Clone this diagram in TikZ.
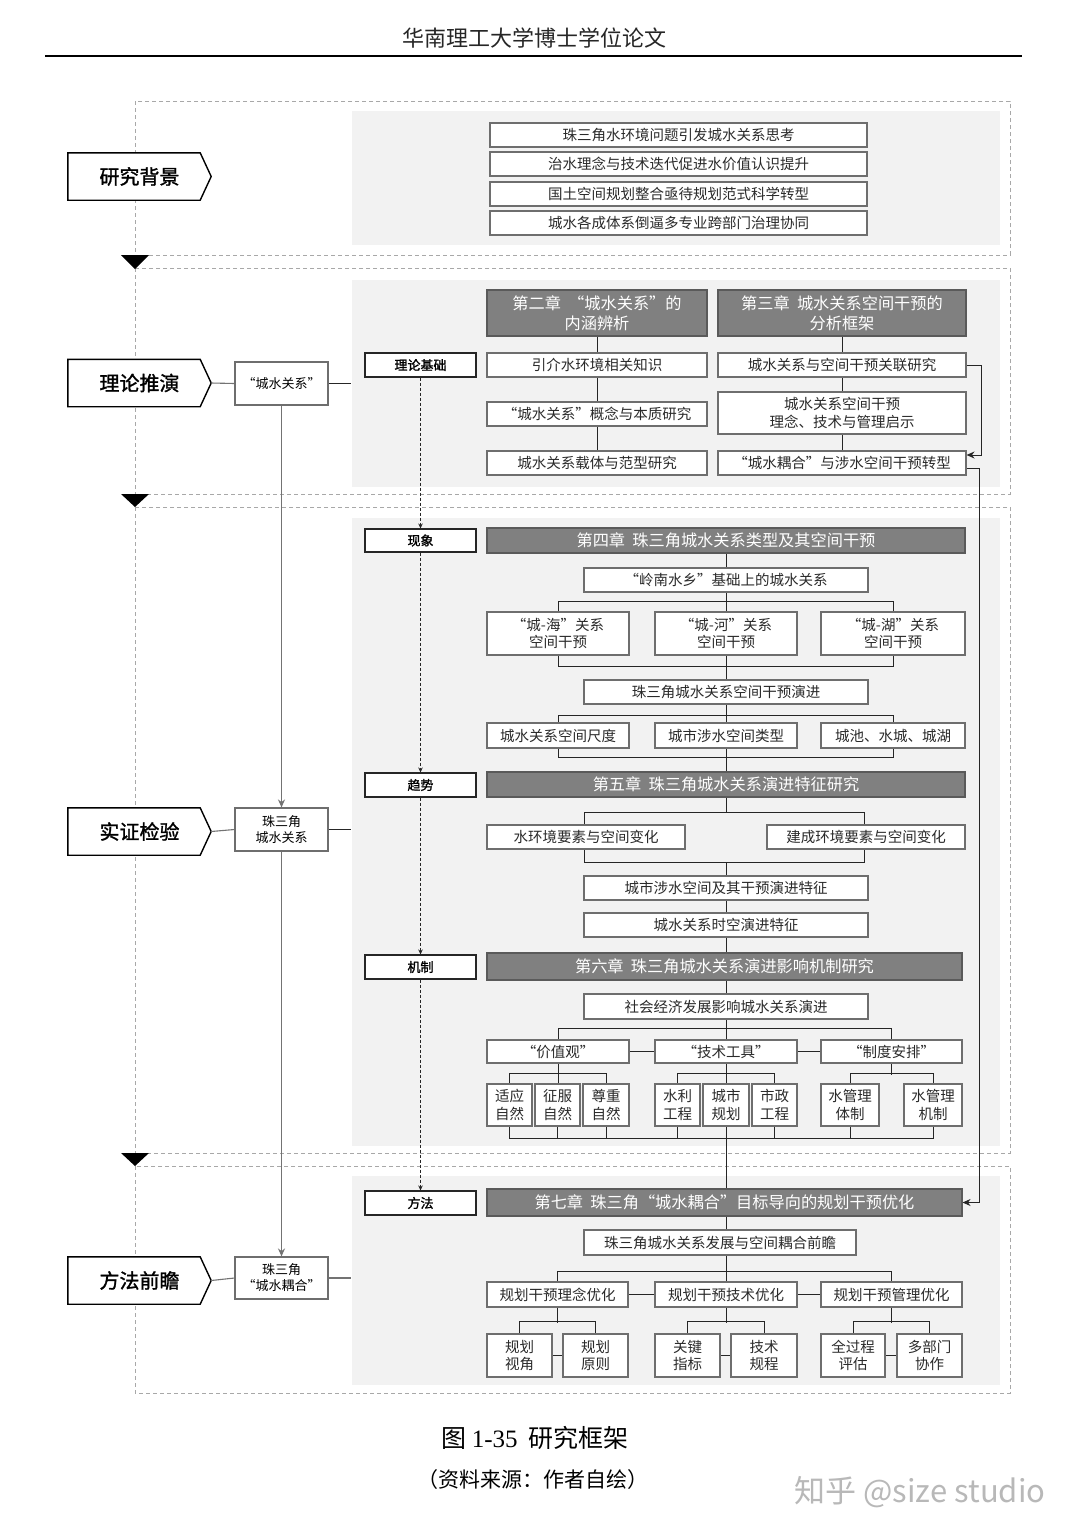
\documentclass[tikz,border=0pt]{standalone}
\usepackage{fontspec}
\setmainfont{Noto Sans CJK SC}
\newfontfamily\cjkb[FakeBold=1.4]{Noto Sans CJK SC}
\newfontfamily\lserif{Liberation Serif}
\usetikzlibrary{calc,arrows.meta}
\pgfdeclarelayer{back}
\pgfdeclarelayer{lines}
\pgfsetlayers{back,lines,main}
\definecolor{panel}{HTML}{F2F2F2}
\definecolor{dark}{HTML}{808080}
\definecolor{darkb}{HTML}{5A5A5A}
\definecolor{bord}{HTML}{6E6E6E}
\definecolor{txt}{HTML}{2A2A2A}
\definecolor{dashc}{HTML}{A8A8A8}
\tikzset{
  bxs/.style={draw=bord, line width=1.1pt, fill=white, inner sep=0pt, align=center, text=txt, font=\fontsize{14.5}{17.5}\selectfont},
  chap/.style={fill=dark, draw=darkb, text=white, font=\fontsize{16.2}{19.5}\selectfont},
  lab/.style={draw=black!85, text=black, font=\cjkb\fontsize{13}{15}\selectfont},
  sml/.style={draw=bord, text=black, font=\fontsize{13}{16}\selectfont},
  pnl/.style={fill=panel, draw=none},
  pent/.style={inner sep=0pt, minimum width=143pt, minimum height=47pt, font=\cjkb\fontsize{20}{24}\selectfont},
  pentline/.style={draw=black, line width=1.4pt, fill=white},
  conn/.style={draw=black!85, line width=1pt},
  gconn/.style={draw=black!55, line width=1.1pt},
  arr/.style={-{Stealth[length=8pt,width=7pt]}},
  sarr/.style={-{Stealth[length=5pt,width=4.5pt]}},
  dsh/.style={draw=dashc, line width=1pt, dash pattern=on 4pt off 3pt},
  dconn/.style={draw=black!85, line width=0.9pt, dash pattern=on 3pt off 2pt},
}
\newcommand\bx[7][]{\node[bxs,#1,minimum width={(#5-#3)*1pt},minimum height={(#6-#4)*1pt}] (#2) at ({(#3+#5)/2},{(#4+#6)/2}) {#7};}

\begin{document}
\begin{tikzpicture}[x=1pt,y=-1pt]
\useasboundingbox (0,0) rectangle (1080,1537);
\begin{pgfonlayer}{back}
\fill[white] (0,0) rectangle (1080,1537);
\bx[pnl]{P1}{352}{111}{1000}{245}{}
\bx[pnl]{P2}{352}{280}{1000}{487}{}
\bx[pnl]{P3}{352}{518}{1000}{1146}{}
\bx[pnl]{P4}{352}{1176}{1000}{1385}{}
\draw[dsh] (135,101) rectangle (1010,255);
\draw[dsh] (135,268) rectangle (1010,494);
\draw[dsh] (135,507) rectangle (1010,1153);
\draw[dsh] (135,1166) rectangle (1010,1393);
\end{pgfonlayer}

% header
\node[font=\fontsize{22}{25}\selectfont, text=black!85] (hdr) at (534,38) {华南理工大学博士学位论文};
\draw[line width=2.5pt] (45,56) -- (1022,56);

% triangles
\fill (121,255) -- (149,255) -- (135,269) -- cycle;
\fill (121,494) -- (149,494) -- (135,507) -- cycle;
\fill (121,1153) -- (149,1153) -- (135,1166) -- cycle;

% section 1
\bx{b1}{490}{123}{867}{147}{珠三角水环境问题引发城水关系思考}
\bx{b2}{490}{152}{867}{176}{治水理念与技术迭代促进水价值认识提升}
\bx{b3}{490}{182}{867}{206}{国土空间规划整合亟待规划范式科学转型}
\bx{b4}{490}{211}{867}{235}{城水各成体系倒逼多专业跨部门治理协同}

% section 2
\bx[chap]{ch2}{487}{290}{707}{336}{第二章\ \ “城水关系”的\\内涵辨析}
\bx[chap]{ch3}{718}{290}{966}{336}{第三章\ \ 城水关系空间干预的\\分析框架}
\bx[lab]{ll}{365}{353}{476}{377}{理论基础}
\bx{yj}{487}{353}{707}{377}{引介水环境相关知识}
\bx{gn}{487}{402}{707}{426}{“城水关系”概念与本质研究}
\bx{zt}{487}{451}{707}{475}{城水关系载体与范型研究}
\bx{guan}{718}{353}{966}{377}{城水关系与空间干预关联研究}
\bx{qs}{718}{392}{966}{434}{城水关系空间干预\\理念、技术与管理启示}
\bx{zx}{718}{451}{966}{475}{“城水耦合”与涉水空间干预转型}

% section 3
\coordinate (mid) at (726,0);
\bx[lab]{xx}{365}{529}{476}{552}{现象}
\bx[chap]{ch4}{487}{528}{965}{553}{第四章\ \ 珠三角城水关系类型及其空间干预}
\bx{ln}{584}{568}{868}{592}{“岭南水乡”基础上的城水关系}
\bx{ha}{487}{612}{629}{655}{“城-海”关系\\空间干预}
\bx{hb}{655}{612}{797}{655}{“城-河”关系\\空间干预}
\bx{hc}{821}{612}{965}{655}{“城-湖”关系\\空间干预}
\bx{yj2}{584}{680}{868}{704}{珠三角城水关系空间干预演进}
\bx{ra}{487}{723}{629}{748}{城水关系空间尺度}
\bx{rb}{655}{723}{797}{748}{城市涉水空间类型}
\bx{rc}{821}{723}{965}{748}{城池、水城、城湖}
\bx[lab]{qsh}{365}{773}{476}{797}{趋势}
\bx[chap]{ch5}{487}{772}{965}{797}{第五章\ \ 珠三角城水关系演进特征研究}
\bx{sa}{487}{825}{685}{849}{水环境要素与空间变化}
\bx{sb}{767}{825}{965}{849}{建成环境要素与空间变化}
\bx{sc}{584}{876}{868}{900}{城市涉水空间及其干预演进特征}
\bx{sd}{584}{913}{868}{937}{城水关系时空演进特征}
\bx[lab]{jz}{365}{955}{476}{979}{机制}
\bx[chap]{ch6}{487}{953}{962}{980}{第六章\ \ 珠三角城水关系演进影响机制研究}
\bx{se}{584}{994}{868}{1019}{社会经济发展影响城水关系演进}
\bx{va}{487}{1040}{629}{1063}{“价值观”}
\bx{vb}{655}{1040}{797}{1063}{“技术工具”}
\bx{vc}{821}{1040}{962}{1063}{“制度安排”}
\bx{a1}{487}{1084}{532}{1126}{适应\\自然}
\bx{a2}{535}{1084}{580}{1126}{征服\\自然}
\bx{a3}{583}{1084}{629}{1126}{尊重\\自然}
\bx{c1x}{655}{1084}{700}{1126}{水利\\工程}
\bx{c2x}{703}{1084}{749}{1126}{城市\\规划}
\bx{c3x}{752}{1084}{797}{1126}{市政\\工程}
\bx{d1}{821}{1084}{879}{1126}{水管理\\体制}
\bx{d2}{904}{1084}{962}{1126}{水管理\\机制}

% section 4
\bx[lab]{fa}{365}{1191}{476}{1215}{方法}
\bx[chap]{ch7}{487}{1189}{962}{1216}{第七章\ \ 珠三角“城水耦合”目标导向的规划干预优化}
\bx{qz}{584}{1230}{856}{1255}{珠三角城水关系发展与空间耦合前瞻}
\bx{g1}{487}{1282}{628}{1307}{规划干预理念优化}
\bx{g2}{655}{1282}{797}{1307}{规划干预技术优化}
\bx{g3}{821}{1282}{962}{1307}{规划干预管理优化}
\bx{h1}{487}{1334}{552}{1377}{规划\\视角}
\bx{h2}{563}{1334}{628}{1377}{规划\\原则}
\bx{h3}{655}{1334}{720}{1377}{关键\\指标}
\bx{h4}{731}{1334}{797}{1377}{技术\\规程}
\bx{h5}{821}{1334}{885}{1377}{全过程\\评估}
\bx{h6}{897}{1334}{962}{1377}{多部门\\协作}

% left column
\node[pent] (p1) at (139.5,176.5) {研究背景};
\node[pent] (p2) at (139.5,383) {理论推演};
\node[pent] (p3) at (139.5,831.5) {实证检验};
\node[pent] (p4) at (139.5,1280.5) {方法前瞻};
\bx[sml]{l1}{235}{362}{328}{405}{“城水关系”}
\bx[sml]{l2}{235}{808}{328}{851}{珠三角\\城水关系}
\bx[sml]{l3}{235}{1257}{328}{1299}{珠三角\\“城水耦合”}

% caption
\node[font=\fontsize{25}{29}\selectfont] (cap) at (535,1438) {图 {\lserif 1-35}\ \ 研究框架};
\node[font=\fontsize{21}{25}\selectfont] (src) at (533,1480) {（资料来源：作者自绘）};
\node[font=\fontsize{31}{36}\selectfont, text=black!28] (wm) at (920,1492) {知乎 @size studio};

\begin{pgfonlayer}{lines}
% pentagons
\foreach \p in {p1,p2,p3,p4}{
  \draw[pentline] (\p.north west) -- ($(\p.north east)+(-11,0)$) -- (\p.east) -- ($(\p.south east)+(-11,0)$) -- (\p.south west) -- cycle;
}
\draw[gconn] (p2.east) -- (l1.west);
\draw[gconn] (p3.east) -- (l2.west);
\draw[gconn] (p4.east) -- (l3.west);
\draw[conn] (l1.east) -- (l1.east -| P2.west);
\draw[conn] (l2.east) -- (l2.east -| P3.west);
\draw[gconn] (l3.east) -- (l3.east -| P4.west);
\draw[gconn,arr] (l1.south) -- (l2.north);
\draw[gconn,arr] (l2.south) -- (l3.north);

% dashed chain
\draw[dconn,sarr] (ll.south) -- (xx.north);
\draw[dconn,sarr] (xx.south) -- (qsh.north);
\draw[dconn,sarr] (qsh.south) -- (jz.north);
\draw[dconn,sarr] (jz.south) -- (fa.north);

% section 2
\draw[conn] (ch2.south) -- (yj.north);
\draw[conn] (yj.south) -- (gn.north);
\draw[conn] (gn.south) -- (zt.north);
\draw[conn] (ch3.south) -- (guan.north);
\draw[conn] (guan.south) -- (qs.north);
\draw[conn] (qs.south) -- (zx.north);
\draw[conn,arr] (guan.east) -- ++(15,0) |- ($(zx.east)+(0,-8)$);
\draw[conn,arr] ($(zx.east)+(0,5)$) -- ++(13,0) |- (ch7.east);

% section 3
\draw[conn] (mid |- ch4.south) -- (mid |- hb.north);
\draw[conn] (ha.north) -- ++(0,-10) -| (hc.north);
\draw[conn] (ha.south) -- ++(0,11) -| (hc.south);
\draw[conn] (mid |- hb.south) -- (mid |- rb.north);
\draw[conn] (ra.north) -- ++(0,-7) -| (rc.north);
\draw[conn] (ra.south) -- ++(0,9) -| (rc.south);
\draw[conn] (mid |- rb.south) -- (mid |- ch5.north);
\coordinate (r5a) at (584,812);
\coordinate (r5b) at (864,862);
\draw[conn] (mid |- ch5.south) -- (mid |- r5a);
\draw[conn] (r5a) rectangle (r5b);
\draw[conn] (mid |- r5b) -- (mid |- ch6.north);
\draw[conn] (mid |- ch6.south) -- (mid |- vb.north);
\draw[conn] (va.north) -- ++(0,-11) -| (vc.north);
\draw[conn] (va.east) -- (vb.west);
\draw[conn] (vb.east) -- (vc.west);
\draw[conn] (va.south) -- (va.south |- a2.north);
\draw[conn] (a1.north) -- ++(0,-10) -| (a3.north);
\draw[conn] (mid |- vb.south) -- (mid |- c2x.north);
\draw[conn] (c1x.north) -- ++(0,-10) -| (c3x.north);
\draw[conn] (vc.south) -- ++(0,11);
\draw[conn] (d1.north) -- ++(0,-10) -| (d2.north);
\draw[conn] (a1.south) -- ++(0,12) -| (d2.south);
\foreach \n in {a2,a3,c1x,c3x,d1}{\draw[conn] (\n.south) -- ++(0,12);}
\draw[conn] (mid |- c2x.south) -- (mid |- ch7.north);

% section 4
\draw[conn] (mid |- ch7.south) -- (mid |- g2.north);
\draw[conn] (g1.north) -- ++(0,-10) -| (g3.north);
\draw[conn] (g1.east) -- (g2.west);
\draw[conn] (g2.east) -- (g3.west);
\draw[conn] (g1.south) -- ++(0,15);
\draw[conn] (h1.north) -- ++(0,-12) -| (h2.north);
\draw[conn] (mid |- g2.south) -- ++(0,15);
\draw[conn] (h3.north) -- ++(0,-12) -| (h4.north);
\draw[conn] (g3.south) -- ++(0,15);
\draw[conn] (h5.north) -- ++(0,-12) -| (h6.north);
\draw[conn] (h1.east) -- (h2.west);
\draw[conn] (h3.east) -- (h4.west);
\draw[conn] (h5.east) -- (h6.west);
\end{pgfonlayer}
\end{tikzpicture}
\end{document}
